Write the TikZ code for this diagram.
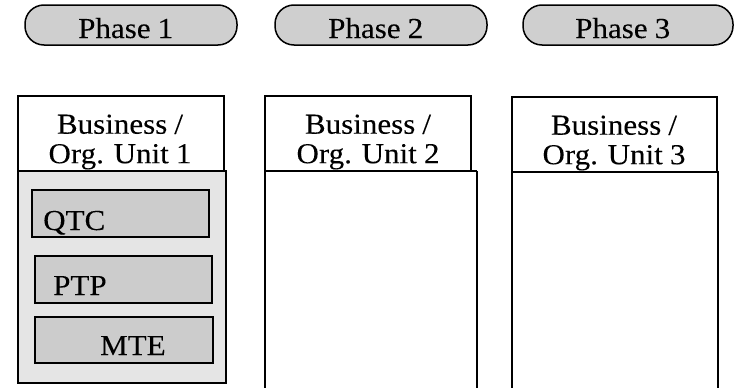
\documentclass[tikz,border=0pt]{standalone}
\usepackage{fontspec}
\setmainfont[FakeStretch=1.07,WordSpace=0.92,FakeBold=0.12]{Liberation Serif}
\begin{document}
\begin{tikzpicture}[x=1pt,y=-1pt,
  pill/.style={draw=black,line width=1.5pt,fill=gray!38,rounded corners=19pt},
  hdr/.style={draw=black,line width=2pt,fill=white},
  body/.style={draw=black,line width=2pt},
  proc/.style={draw=black,line width=2pt,fill=gray!40},
  lbl/.style={font=\fontsize{29}{31}\selectfont,inner sep=0pt},
  hlbl/.style={font=\fontsize{29}{29.5}\selectfont,inner sep=0pt,align=center}]
\useasboundingbox (0,0) rectangle (740,388);
% phases
\draw[pill] (25,5) rectangle (237,45);
\draw[pill] (275,5) rectangle (487,45);
\draw[pill] (523,5) rectangle (733,45);
\node[lbl,anchor=base west] (p1) at (78,38) {Phase 1};
\node[lbl,anchor=base west] (p2) at (328,38) {Phase 2};
\node[lbl,anchor=base west] (p3) at (575,38) {Phase 3};
% unit bodies
\draw[body,fill=gray!20] (18,171) rectangle (226,383);
\draw[body,fill=white] (265,171) -- (265,395) (477,171) -- (477,395);
\draw[body] (265,171) -- (477,171);
\draw[body,fill=white] (512,171) -- (512,395) (718,171) -- (718,395);
\draw[body] (512,171) -- (718,171);
% headers
\draw[hdr] (18,96) rectangle (224,171);
\draw[hdr] (265,96) rectangle (471,171);
\draw[hdr] (512,97) rectangle (717,172);
\node[hlbl] (u1) at (120,142) {Business /\\Org. Unit 1};
\node[hlbl] (u2) at (368,142) {Business /\\Org. Unit 2};
\node[hlbl] (u3) at (614,143) {Business /\\Org. Unit 3};
% processes
\draw[proc] (32,190) rectangle (209,237);
\draw[proc] (35,256) rectangle (212,303);
\draw[proc] (35,317) rectangle (213,363);
\node[lbl,anchor=base west] (qtc) at (43,230) {QTC};
\node[lbl,anchor=base west] (ptp) at (53,295) {PTP};
\node[lbl,anchor=base west] (mte) at (100,355) {MTE};
\end{tikzpicture}
\end{document}
